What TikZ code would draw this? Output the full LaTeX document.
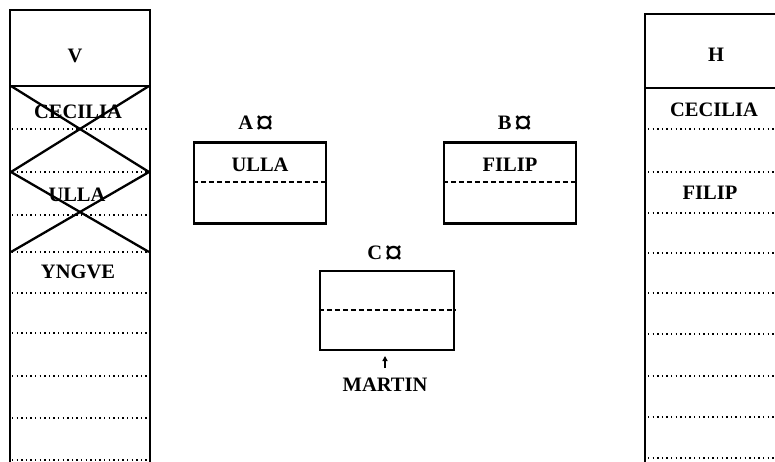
\documentclass[tikz,border=0pt]{standalone}
\usepackage{fontspec}
\setmainfont{Liberation Serif}
\usetikzlibrary{arrows.meta}
\newcommand{\cursign}{\hspace{0.12em}\raisebox{-0.24em}{\scalebox{1.75}[1.7]{¤}}}
\begin{document}
\begin{tikzpicture}[x=1pt,y=-1pt,
  lbl/.style={font=\fontsize{20.5}{24}\selectfont\bfseries, inner sep=0pt, anchor=center},
  frame/.style={line width=2.3pt, line cap=rect, line join=miter},
  rowline/.style={line width=1.3pt, dash pattern=on 1.4pt off 3.2pt},
  strike/.style={line width=2.3pt},
  slot/.style={draw, line width=2.3pt, rectangle, minimum width=132pt, minimum height=81pt, inner sep=0pt},
  midline/.style={line width=1.3pt, dash pattern=on 5pt off 3pt}
]
\useasboundingbox (0,0) rectangle (775,462);

% ---- left column V ----
\draw[frame] (10,462) -- (10,10) -- (150,10) -- (150,462);
\draw[frame] (10,86) -- (150,86);
\foreach \yy in {129,172,215,252,293,333,376,418,460}
  \draw[rowline] (12,\yy) -- (148,\yy);
\node[lbl] (vhead) at (75,56) {V};
\node[lbl] (v1) at (78,112) {CECILIA};
\node[lbl] (v2) at (77,195) {ULLA};
\node[lbl] (v3) at (78,272) {YNGVE};
% crossed-out entries
\draw[strike] (11,86) -- (149,172);
\draw[strike] (149,86) -- (11,172);
\draw[strike] (11,172) -- (149,252);
\draw[strike] (149,172) -- (11,252);

% ---- right column H ----
\draw[frame] (645,462) -- (645,14) -- (780,14);
\draw[frame] (645,88) -- (780,88);
\foreach \yy in {129,172,213,253,293,334,376,417,458}
  \draw[rowline] (648,\yy) -- (775,\yy);
\node[lbl] (hhead) at (716,55) {H};
\node[lbl] (h1) at (714,110) {CECILIA};
\node[lbl] (h2) at (710,193) {FILIP};

% ---- slots A, B, C ----
\node[slot] (boxA) at (260,183) {};
\draw[midline] (boxA.west |- 0,182) -- (boxA.east |- 0,182);
\node[lbl] (nameA) at (260,165) {ULLA};
\node[lbl] (tagA) at (256,125) {A\cursign};

\node[slot] (boxB) at (510,183) {};
\draw[midline] (boxB.west |- 0,182) -- (boxB.east |- 0,182);
\node[lbl] (nameB) at (510,165) {FILIP};
\node[lbl] (tagB) at (515,125) {B\cursign};

\node[slot, minimum width=134pt, minimum height=79pt] (boxC) at (387,310.5) {};
\draw[midline] (boxC.west |- 0,310) -- (boxC.east |- 0,310);
\node[lbl] (tagC) at (385,255) {C\cursign};
\node[lbl] (martin) at (385,385) {MARTIN};
\coordinate (mtop) at (385,368);
\draw[line width=1.3pt, -{Triangle[length=5pt,width=5pt]}] (mtop) -- (385,356);
\end{tikzpicture}
\end{document}
